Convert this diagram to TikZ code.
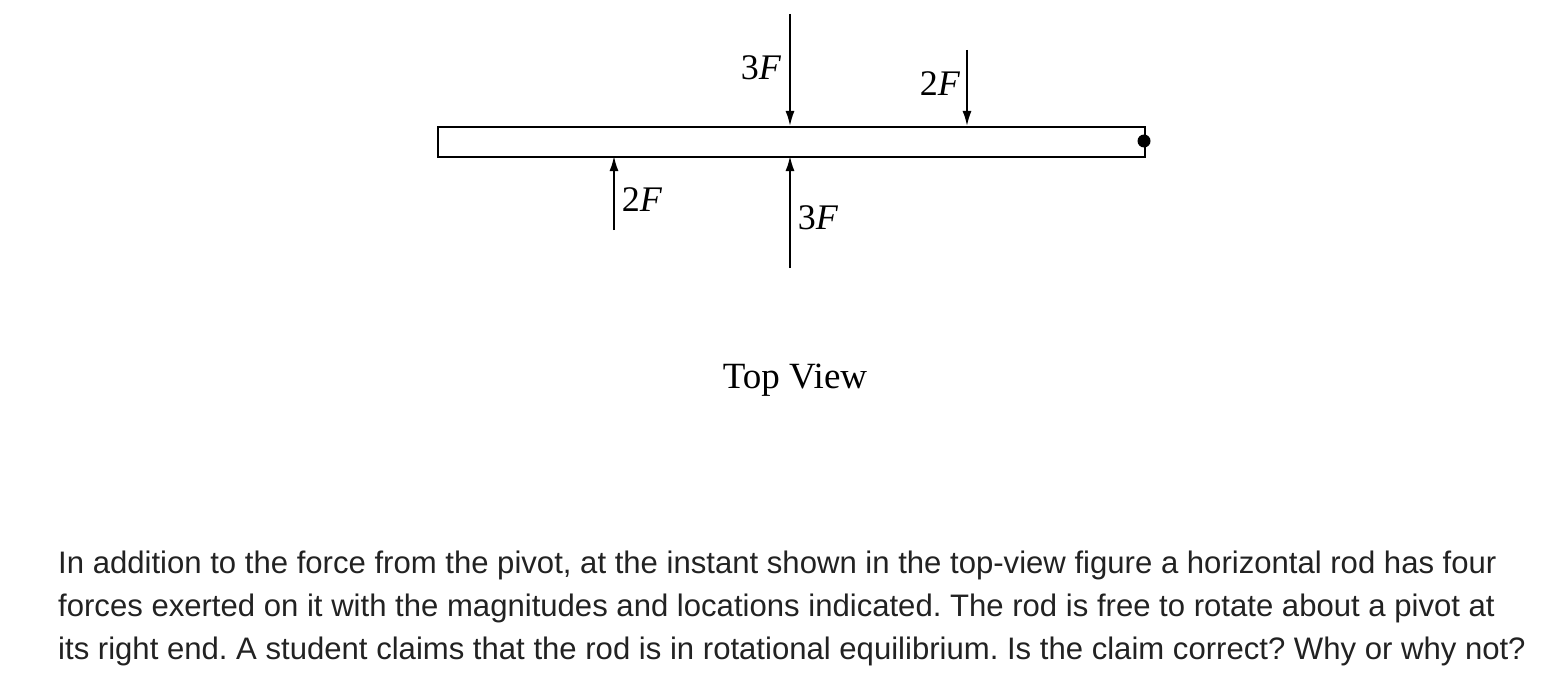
\documentclass[tikz,border=0pt]{standalone}
\usepackage{fontspec}
\setmainfont{Liberation Serif}
\newfontfamily\para{Liberation Sans}
\usetikzlibrary{arrows.meta}
\frenchspacing
\definecolor{ptxt}{HTML}{222222}
\begin{document}
\begin{tikzpicture}[x=1pt,y=-1pt,
  force/.style={line width=1.8pt,-{Latex[length=15pt,width=9pt]}},
  lbl/.style={font=\fontsize{36}{42}\selectfont},
  ptext/.style={anchor=west,inner sep=0pt,text=ptxt,font=\para\fontsize{31.1}{36}\selectfont}]
\useasboundingbox (0,0) rectangle (1547,690);
\node[draw,line width=1.8pt,minimum width=707pt,minimum height=30pt,inner sep=0pt,anchor=north west] (rod) at (437,126) {};
\fill (1144,141) circle (6.5pt);
\coordinate (a1) at (790,14); \coordinate (a1e) at (790,126);
\coordinate (a2) at (967,50); \coordinate (a2e) at (967,126);
\coordinate (b1) at (614,230); \coordinate (b1e) at (614,156);
\coordinate (b2) at (790,268); \coordinate (b2e) at (790,156);
\draw[force] (a1) -- (a1e);
\draw[force] (a2) -- (a2e);
\draw[force] (b1) -- (b1e);
\draw[force] (b2) -- (b2e);
\node[lbl] (l1) at (761,68) {3\textit{F}};
\node[lbl] (l2) at (940,84) {2\textit{F}};
\node[lbl] (l3) at (642,200) {2\textit{F}};
\node[lbl] (l4) at (818,218) {3\textit{F}};
\node[font=\fontsize{37}{44}\selectfont] (tv) at (795,380) {Top View};
\node[ptext] (p1) at (58,565) {In addition to the force from the pivot, at the instant shown in the top-view figure a horizontal rod has four};
\node[ptext] (p2) at (58,608) {forces exerted on it with the magnitudes and locations indicated. The rod is free to rotate about a pivot at};
\node[ptext] (p3) at (58,651) {its right end. A student claims that the rod is in rotational equilibrium. Is the claim correct? Why or why not?};
\end{tikzpicture}
\end{document}
